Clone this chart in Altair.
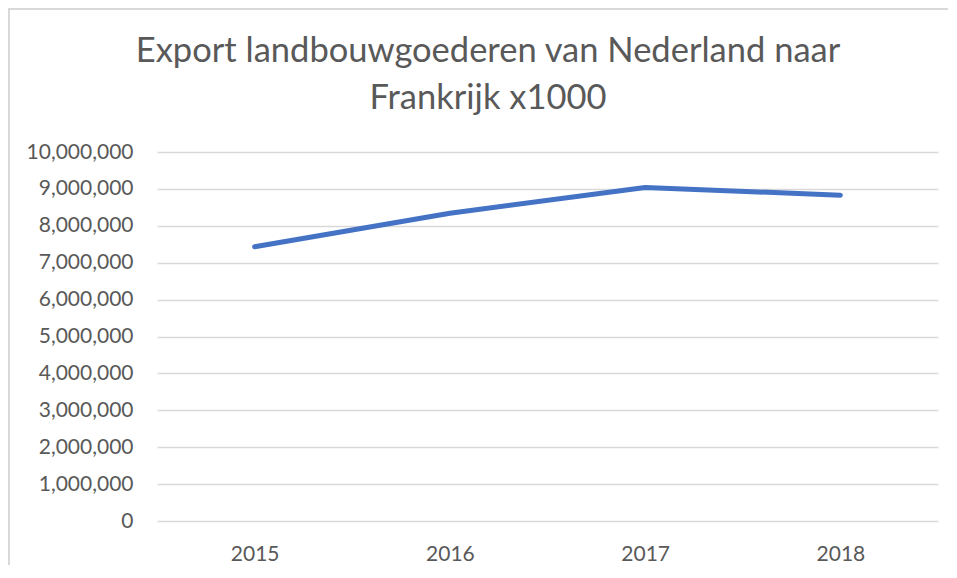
import altair as alt
import pandas as pd

years = ["2015", "2016", "2017", "2018"]
exports = [7430000, 8340000, 9040000, 8830000]
y_ticks = [0, 1000000, 2000000, 3000000, 4000000, 5000000, 6000000, 7000000, 8000000, 9000000, 10000000]
title_lines = ["Export landbouwgoederen van Nederland naar", "Frankrijk x1000"]

df = pd.DataFrame({"year": years, "value": exports})

FONT = "Lato"
GRAY_TEXT = "#595959"
GRID = "#d9d9d9"

line = alt.Chart(df).mark_line(color="#4472C4", strokeWidth=5, strokeCap="round", strokeJoin="round").encode(
    x=alt.X("year:O", scale=alt.Scale(type="point", padding=0.5),
            axis=alt.Axis(title=None, labelAngle=0, domain=False, ticks=False, grid=False,
                          labelPadding=22, labelFontSize=21, labelColor=GRAY_TEXT, labelFont=FONT)),
    y=alt.Y("value:Q", scale=alt.Scale(domain=[0, 10000000], nice=False),
            axis=alt.Axis(title=None, values=y_ticks, format=",d", domain=False, ticks=False,
                          gridColor=GRID, gridWidth=1.5, labelPadding=24, labelFontSize=21,
                          labelColor=GRAY_TEXT, labelFont=FONT)),
)

one = alt.Data(values=[{"k": 1}])
left_border = alt.Chart(one).mark_rect(color=GRID, strokeWidth=0).encode(
    x=alt.value(-149), x2=alt.value(-147), y=alt.value(-144), y2=alt.value(430))
top_border = alt.Chart(one).mark_rect(color=GRID, strokeWidth=0).encode(
    x=alt.value(-149), x2=alt.value(791), y=alt.value(-144), y2=alt.value(-142))

title1 = alt.Chart(one).mark_text(font=FONT, fontSize=34.5, color=GRAY_TEXT, align="center",
                                  baseline="alphabetic", text=title_lines[0]).encode(
    x=alt.value(331), y=alt.value(-90))
title2 = alt.Chart(one).mark_text(font=FONT, fontSize=34.5, color=GRAY_TEXT, align="center",
                                  baseline="alphabetic", text=title_lines[1]).encode(
    x=alt.value(331), y=alt.value(-43))

chart = alt.layer(left_border, top_border, line, title1, title2).properties(
    width=781, height=369,
    autosize=alt.AutoSizeParams(type="none"),
    padding={"left": 149, "top": 144, "right": 10, "bottom": 44},
).configure_view(stroke=None)

chart.save("out.html", embed_options={"renderer": "svg", "actions": False})
